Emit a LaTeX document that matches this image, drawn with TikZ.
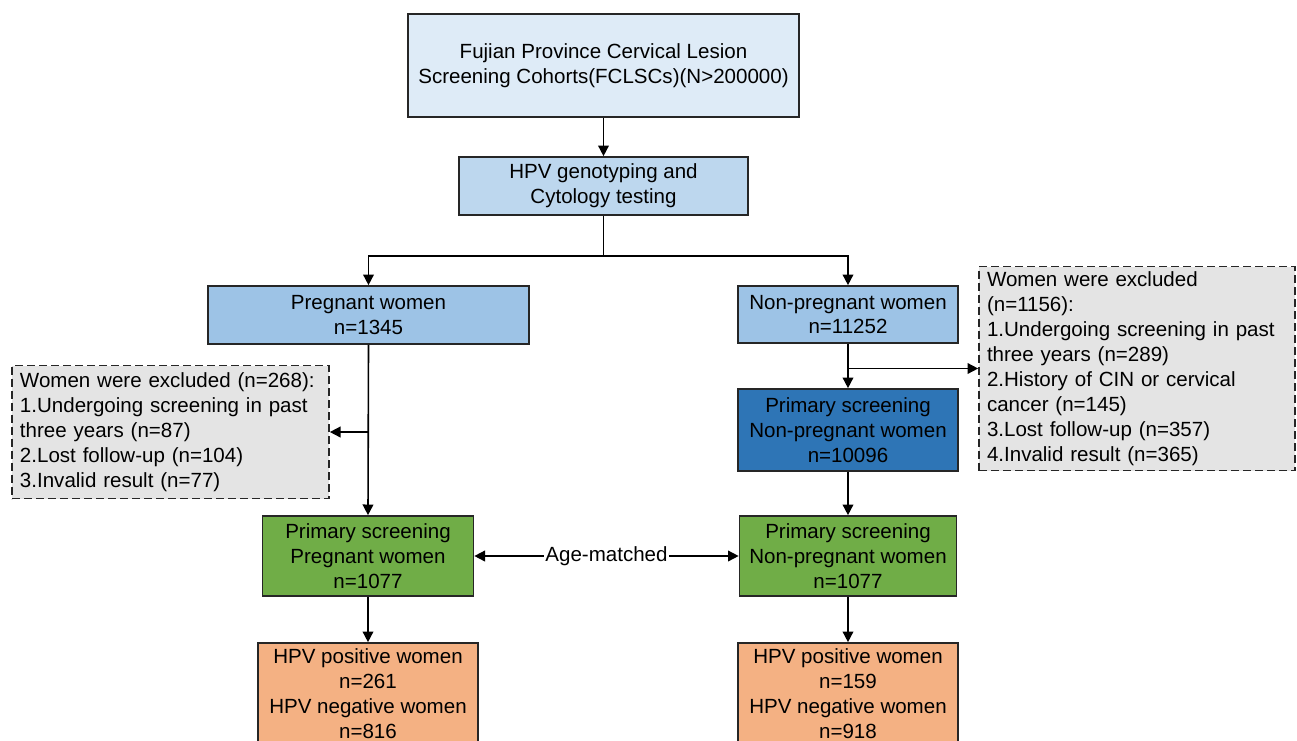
\documentclass[tikz,border=0pt]{standalone}
\usepackage{fontspec}
\setmainfont{Liberation Sans}
\usetikzlibrary{arrows.meta}
\definecolor{cTop}{HTML}{DEEBF7}
\definecolor{cHpv}{HTML}{BDD7EE}
\definecolor{cMid}{HTML}{9DC3E6}
\definecolor{cDark}{HTML}{2E75B6}
\definecolor{cGreen}{HTML}{70AD47}
\definecolor{cOrange}{HTML}{F4B183}
\definecolor{cGrey}{HTML}{E4E4E4}
\tikzset{
  sz/.style 2 args={minimum width=#1*0.75pt, minimum height=#2*0.75pt},
  box/.style={draw=black!85, line width=1.25pt, inner sep=0pt, align=center,
    font=\fontsize{15.4}{18.6}\selectfont},
  exbox/.style={draw=black!85, line width=1.25pt, dash pattern=on 6pt off 3pt,
    fill=cGrey, inner xsep=6pt, inner ysep=0pt, align=left,
    font=\fontsize{15.4}{18.75}\selectfont},
  conn/.style={line width=1.2pt, draw=black},
  tip/.style={-{Triangle[length=8pt,width=8pt]}},
  arr/.style={conn, tip},
}
\begin{document}
\begin{tikzpicture}[x=0.75pt,y=-0.75pt]
\useasboundingbox (0,0) rectangle (1297,740);
\clip (0,0) rectangle (1297,740);
% nodes
\node[box, fill=cTop, sz={391}{103}] (top) at (603.5,65.5)
  {Fujian Province Cervical Lesion\\Screening Cohorts(FCLSCs)(N>200000)};
\node[box, fill=cHpv, sz={289}{58}] (hpv) at (603.5,186)
  {HPV genotyping and\\Cytology testing};
\node[box, fill=cMid, sz={321}{58}] (preg) at (368.5,315)
  {Pregnant women\\n=1345};
\node[box, fill=cMid, sz={220}{57}] (npreg) at (848,314.5)
  {Non-pregnant women\\n=11252};
\node[exbox, sz={317}{133}, text width=225.75pt] (exL) at (170.5,432)
  {Women were excluded (n=268):\\1.Undergoing screening in past\\three years (n=87)\\2.Lost follow-up (n=104)\\3.Invalid result (n=77)};
\node[exbox, sz={316}{204}, text width=225pt] (exR) at (1137,368.5)
  {Women were excluded\\(n=1156):\\1.Undergoing screening in past\\three years (n=289)\\2.History of CIN or cervical\\cancer (n=145)\\3.Lost follow-up (n=357)\\4.Invalid result (n=365)};
\node[box, fill=cDark, sz={220}{82}] (psnp) at (848,430)
  {Primary screening\\Non-pregnant women\\n=10096};
\node[box, fill=cGreen, sz={211}{80}] (gL) at (368,556)
  {Primary screening\\Pregnant women\\n=1077};
\node[box, fill=cGreen, sz={217}{80}] (gR) at (848,556)
  {Primary screening\\Non-pregnant women\\n=1077};
\node[box, fill=cOrange, sz={220}{101}] (oL) at (368,693.5)
  {HPV positive women\\n=261\\HPV negative women\\n=816};
\node[box, fill=cOrange, sz={220}{101}] (oR) at (848,693.5)
  {HPV positive women\\n=159\\HPV negative women\\n=918};
% connectors
\coordinate (j) at (603.5,256);
\draw[arr] (top.south) -- (hpv.north);
\draw[conn] (hpv.south) -- (j);
\draw[arr] (j) -| (preg.north);
\draw[arr] (j) -| (npreg.north);
\draw[arr] (preg.south) -- (gL.north);
\draw[arr] (preg.south |- exL.east) -- (exL.east);
\draw[arr] (npreg.south) -- (psnp.north);
\draw[arr] (npreg.south |- exR.west) -- (exR.west);
\draw[arr] (psnp.south) -- (gR.north);
\draw[conn, {Triangle[length=8pt,width=8pt]}-{Triangle[length=8pt,width=8pt]}] (gL.east) -- (gR.west)
  node[midway, fill=white, inner sep=1pt, font=\fontsize{15.4}{18.6}\selectfont] (age) {Age-matched};
\draw[arr] (gL.south) -- (oL.north);
\draw[arr] (gR.south) -- (oR.north);
\end{tikzpicture}
\end{document}
